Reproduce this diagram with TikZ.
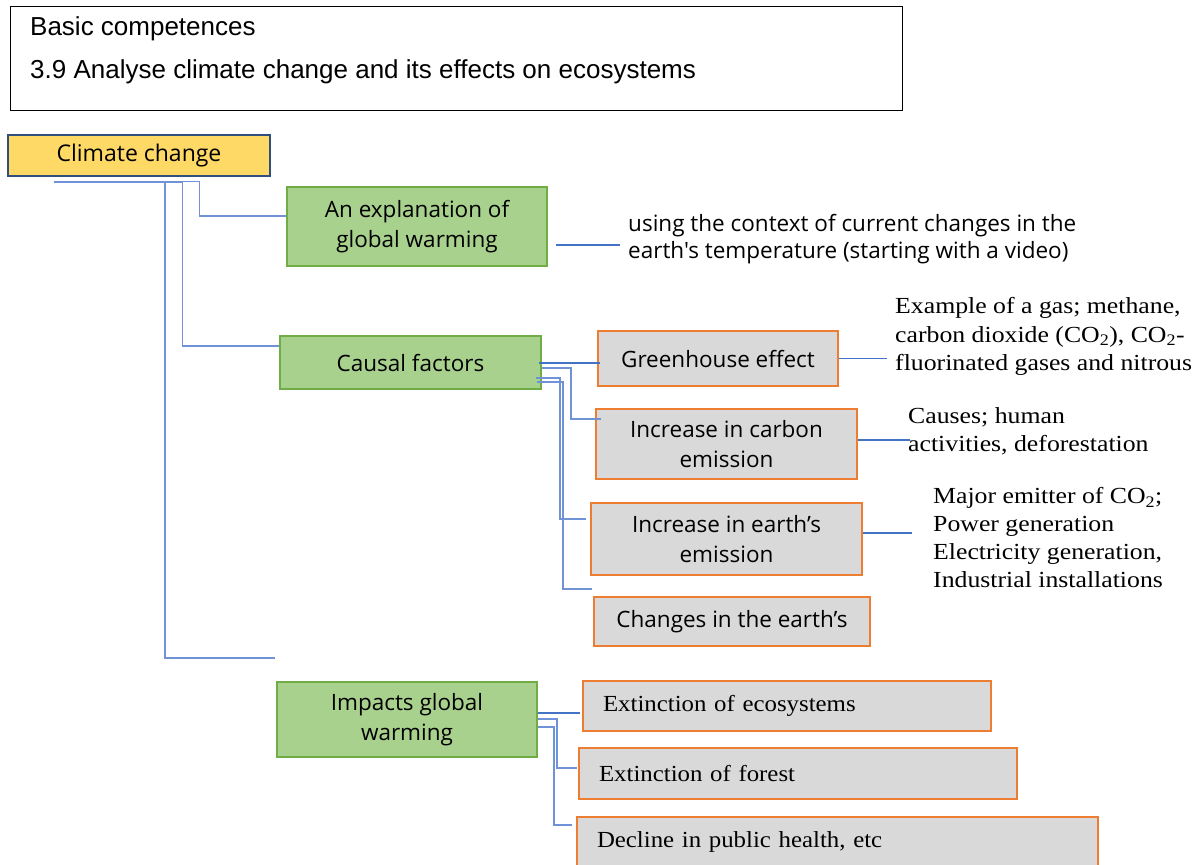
\documentclass[tikz,border=0pt]{standalone}
\usepackage{fontspec}
\setmainfont{Liberation Serif}
\newfontfamily\serifw[FakeStretch=1.12]{Liberation Serif}
\newfontfamily\serifb[FakeStretch=1.08]{Liberation Serif}
\newfontfamily\arial{Liberation Sans}
\newfontfamily\osans{Open Sans}
\usetikzlibrary{calc}
\definecolor{gfill}{HTML}{A9D18E}
\definecolor{gline}{HTML}{70AD47}
\definecolor{ofill}{HTML}{D9D9D9}
\definecolor{oline}{HTML}{ED7D31}
\definecolor{yfill}{HTML}{FFD966}
\definecolor{yline}{HTML}{2F4F7F}
\definecolor{cblue}{HTML}{4472C4}
\definecolor{lblue}{HTML}{6F93D6}
\begin{document}
\begin{tikzpicture}[x=1pt,y=-1pt,
  box/.style={draw, inner sep=0pt, align=center},
  gbox/.style={box, fill=gfill, draw=gline, line width=1.5pt, font=\osans\fontsize{22.5}{30}\selectfont},
  obox/.style={box, fill=ofill, draw=oline, line width=2pt, font=\osans\fontsize{22.5}{30}\selectfont},
  sbox/.style={box, fill=ofill, draw=oline, line width=2pt, align=left, font=\serifb\fontsize{23}{27}\selectfont},
  ybox/.style={box, fill=yfill, draw=yline, line width=2.5pt, font=\osans\fontsize{23}{26}\selectfont},
  note/.style={anchor=west, align=left, inner sep=0pt},
  snote/.style={note, font=\serifw\fontsize{23}{27.7}\selectfont},
  conn/.style={draw=lblue, line width=1.3pt},
  thconn/.style={draw=cblue, line width=2pt}]
\useasboundingbox (0,0) rectangle (1203,865);

% header
\node[draw, line width=1.2pt, minimum width=892, minimum height=104, anchor=north west, inner sep=0pt] (bc) at (10,6) {};
\node[note, font=\arial\fontsize{26}{30}\selectfont] (t1) at (30,29) {Basic competences};
\node[note, font=\arial\fontsize{26}{30}\selectfont] (t2) at (30,72) {3.9 Analyse climate change and its effects on ecosystems};

% main nodes
\node[ybox, minimum width=262, minimum height=41] (cc) at (139,155.5) {Climate change};
\node[gbox, minimum width=260, minimum height=79] (expl) at (417,226.5) {An explanation of\\global warming};
\node[gbox, minimum width=261, minimum height=53] (causal) at (410.5,362.5) {Causal factors};
\node[gbox, minimum width=260, minimum height=75] (imp) at (407,719.5) {Impacts global\\warming};

\node[note, font=\osans\fontsize{22.5}{27}\selectfont] (ctx) at (628,239.5) {using the context of current changes in the\\earth's temperature (starting with a video)};

% causes
\node[obox, minimum width=240, minimum height=55] (gh) at (718,358.5) {Greenhouse effect};
\node[obox, minimum width=261, minimum height=70] (carb) at (726.5,444) {Increase in carbon\\emission};
\node[obox, minimum width=271, minimum height=72] (earth) at (726.5,539) {Increase in earth’s\\emission};
\node[obox, minimum width=276, minimum height=49] (chg) at (732,621.5) {Changes in the earth’s};

\node[snote, font=\serifw\fontsize{23}{28.5}\selectfont] (ghn) at (895,336.5) {Example of a gas; methane,\\carbon dioxide (CO\textsubscript{2}), CO\textsubscript{2}-\\fluorinated gases and nitrous};
\node[snote] (carbn) at (908,431.5) {Causes; human\\activities, deforestation};
\node[snote] (earthn) at (933,537.5) {Major emitter of CO\textsubscript{2};\\Power generation\\Electricity generation,\\Industrial installations};

% impacts
\node[sbox, minimum width=408, minimum height=50, text width=368] (eco) at (787,706) {Extinction of ecosystems};
\node[sbox, minimum width=438, minimum height=51, text width=398] (forest) at (798,773.5) {Extinction of forest};
\node[sbox, minimum width=521, minimum height=50, text width=481] (decl) at (837.5,842) {Decline in public health, etc};

\coordinate (imend) at (275,658);

% connectors from climate change
\draw[conn] ($(cc.south west)+(47,4)$) -- ($(cc.south west)+(157,4)$);
\draw[conn] ($(cc.south west)+(80,4.5)$) -| ($(expl.west)+(-87,-10.5)$) -- ($(expl.west)+(0,-10.5)$);
\draw[conn] ($(cc.south west)+(47,5)$) -| ($(causal.west)+(-97,-16.5)$) -- ($(causal.west)+(0,-16.5)$);
\draw[conn] ($(cc.south west)+(47,4)$) -| ($(imend)+(-110,0)$) -- (imend);

% explanation note
\draw[thconn, line width=1.5pt] ($(expl.east)+(8,18.5)$) -- ($(ctx.west)+(-8,5.5)$);

% causal connectors
\draw[thconn] ($(causal.east)+(-3,0)$) -- ($(gh.west)+(3,4)$);
\draw[conn] ($(causal.east)+(0,5.5)$) -| ($(carb.west)+(-24,-25)$) -- ($(carb.west)+(6,-25)$);
\draw[conn] ($(causal.east)+(-6,15.5)$) -| ($(earth.west)+(-30,-20)$) -- ($(earth.west)+(-4,-20)$);
\draw[conn] ($(causal.east)+(-5,19.5)$) -| ($(chg.west)+(-30,-32.5)$) -- ($(chg.west)+(-1,-32.5)$);

% note connectors
\draw[thconn, line width=1.5pt] (gh.east) -- ($(ghn.west)+(-8,22)$);
\draw[thconn, line width=1.5pt] ($(carb.east)+(0,-4)$) -- ($(carbn.west)+(2,8.5)$);
\draw[thconn, line width=1.5pt] ($(earth.east)+(0,-6)$) -- ($(earthn.west)+(-21,-4.5)$);

% impact connectors
\draw[thconn] ($(imp.east)+(0,-6.5)$) -- ($(eco.west)+(-2,7)$);
\draw[conn] ($(imp.east)+(0,-0.5)$) -| ($(forest.west)+(-21,-5.5)$) -- ($(forest.west)+(-1,-5.5)$);
\draw[conn] ($(imp.east)+(0,7.5)$) -| ($(decl.west)+(-22,-17)$) -- ($(decl.west)+(-4,-17)$);
\end{tikzpicture}
\end{document}
